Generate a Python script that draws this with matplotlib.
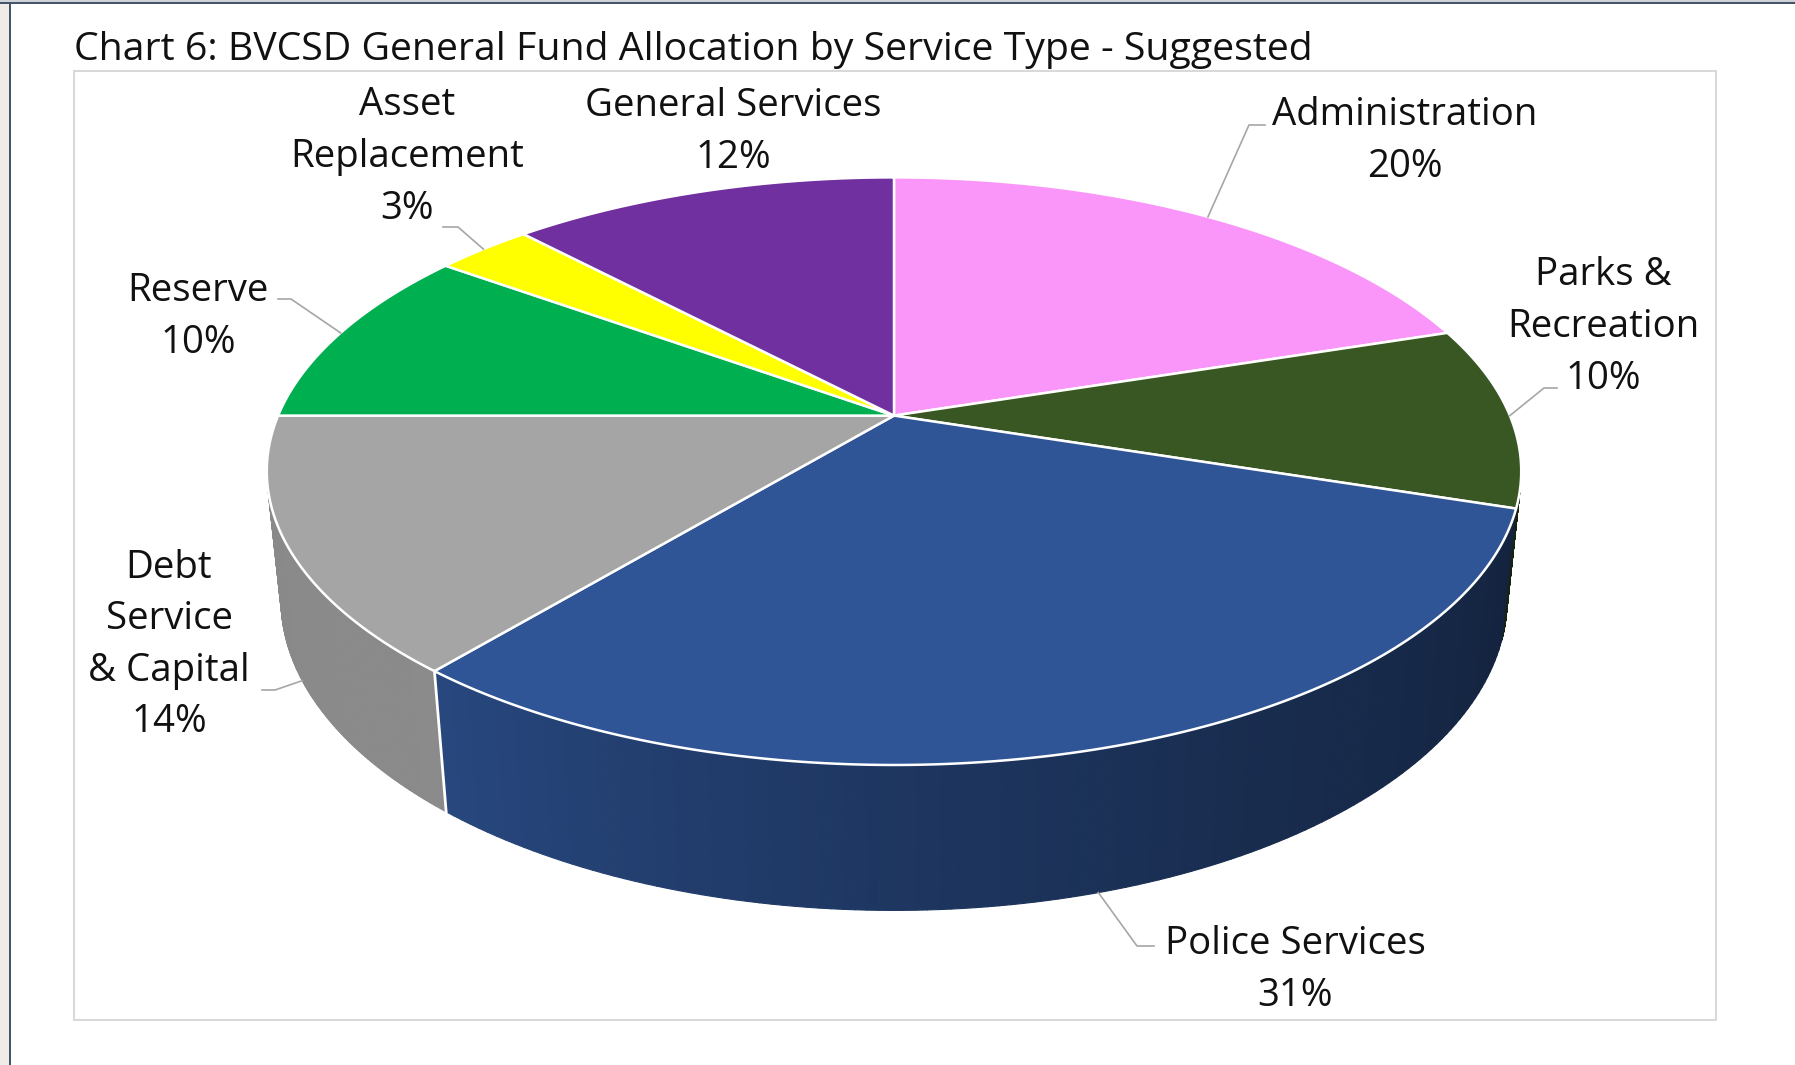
import numpy as np
import matplotlib.pyplot as plt
from matplotlib.patches import Polygon, Rectangle
from matplotlib.collections import PolyCollection
from matplotlib.colors import to_rgb

plt.rcParams['font.family'] = ['Open Sans', 'DejaVu Sans']

title = 'Chart 6: BVCSD General Fund Allocation by Service Type - Suggested'
categories = ['Administration', 'Parks &\nRecreation', 'Police Services',
              'Debt\nService\n& Capital', 'Reserve', 'Asset\nReplacement',
              'General Services']
shares = [20, 10, 31, 14, 10, 3, 12]
colors = ['#FA96F9', '#395723', '#2F5597', '#A5A5A5', '#00B050', '#FFFF00', '#7030A0']

# label centres and leader lines (pixels)
label_xy = [(1405, 141), (1603, 327), (1295, 970), (169, 645),
            (198, 317), (407, 157), (733, 132)]
leader_pts = [((1265, 125), (1249, 125)), ((1557, 388), (1544, 388)),
              ((1154, 946), (1137, 946)), ((262, 690), (275, 690)),
              ((278, 299), (291, 299)), ((443, 227), (458, 227)), None]
anchor_on = ['top', 'top', 'bottom', 'bottom', 'top', 'top', None]

# perspective camera for the 3d pie
cx, cy = 894, 415.6
elev = np.radians(27)
dist = 4.71
focal = 2939
xscale = 0.987
thick = 0.232


def project(theta, z, r=1.0):
    X = r * np.cos(theta)
    Y = r * np.sin(theta)
    depth = dist + Y * np.cos(elev) - z * np.sin(elev)
    sx = cx + xscale * focal * X / depth
    sy = cy - focal * (Y * np.sin(elev) + z * np.cos(elev)) / depth
    return sx, sy


def shade(deg):
    d = deg % 360
    return np.interp(d, [190, 230, 270, 300, 346], [0.83, 0.84, 0.64, 0.52, 0.40])


fig = plt.figure(figsize=(17.95, 10.65), dpi=100)
ax = fig.add_axes([0, 0, 1, 1])
ax.set_xlim(0, 1795)
ax.set_ylim(1065, 0)
ax.axis('off')

# page frame
ax.add_patch(Rectangle((0, 0), 9, 1065, fc='#efebe7', ec='none'))
ax.add_patch(Rectangle((9, 0), 2, 1065, fc='#44546a', ec='none'))
ax.add_patch(Rectangle((0, 0), 1795, 2, fc='#cfd2d6', ec='none'))
ax.add_patch(Rectangle((0, 2), 1795, 2, fc='#44546a', ec='none'))
ax.add_patch(Rectangle((74, 71), 1642, 949, fill=False, ec='#d9d9d9', lw=1.5))

ax.text(74, 50, title, ha='left', va='center', fontsize=28.3, color='#111111')

starts = 90 - 3.6 * np.concatenate([[0], np.cumsum(shares)[:-1]])
ends = starts - 3.6 * np.array(shares)

a = np.degrees(np.arcsin(1 / (dist * np.cos(elev))))
vis_lo, vis_hi = -180 + a, -a

# side walls
for t1, t2, c in zip(starts, ends, colors):
    lo, hi = max(t2, vis_lo), min(t1, vis_hi)
    if lo >= hi:
        continue
    ts = np.linspace(lo, hi, 120)
    quads, fcs = [], []
    base = np.array(to_rgb(c))
    for k in range(len(ts) - 1):
        ta, tb = np.radians(ts[k]), np.radians(ts[k + 1])
        quads.append([project(ta, 0), project(tb, 0),
                      project(tb, -thick), project(ta, -thick)])
        fcs.append(base * shade((ts[k] + ts[k + 1]) / 2))
    ax.add_collection(PolyCollection(quads, facecolors=fcs, edgecolors=fcs, lw=0.8))

for t in starts:
    if vis_lo + 8 < t < vis_hi - 8:
        p0 = project(np.radians(t), 0)
        p1 = project(np.radians(t), -thick)
        ax.plot([p0[0], p1[0]], [p0[1], p1[1]], color='white', lw=2)

# top faces
for t1, t2, c in zip(starts, ends, colors):
    ts = np.radians(np.linspace(t1, t2, 300))
    xs, ys = project(ts, 0)
    pts = np.column_stack([np.r_[cx, xs], np.r_[cy, ys]])
    ax.add_patch(Polygon(pts, closed=True, fc=c, ec='white', lw=1.8, joinstyle='round'))

# labels and leaders
for cat, s, t1, t2, xy, lp, on in zip(categories, shares, starts, ends,
                                      label_xy, leader_pts, anchor_on):
    if lp is not None:
        mid = np.radians((t1 + t2) / 2)
        ex, ey = project(mid, 0 if on == 'top' else -thick)
        ax.plot([lp[0][0], lp[1][0], ex], [lp[0][1], lp[1][1], ey],
                color='#a6a6a6', lw=1.2)
    ax.text(xy[0], xy[1], f'{cat}\n{s}%', ha='center', va='center',
            multialignment='center', fontsize=27.6, linespacing=1.47,
            color='#111111')

fig.savefig('out.png', dpi=100)
